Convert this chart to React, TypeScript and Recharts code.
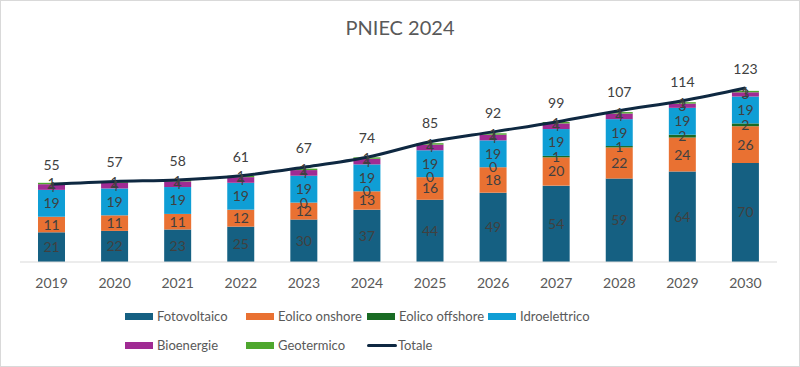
import { ComposedChart, Bar, Line, XAxis, YAxis, LabelList } from "recharts";

const years = ["2019", "2020", "2021", "2022", "2023", "2024", "2025", "2026", "2027", "2028", "2029", "2030"];
const fotovoltaico = [21, 22, 23, 25, 30, 37, 44, 49, 54, 59, 64, 70];
const eolicoOnshore = [11, 11, 11, 12, 12, 13, 16, 18, 20, 22, 24, 26];
const eolicoOffshore = [0, 0, 0, 0, 0, 0, 0, 0, 1, 1, 2, 2];
const idroelettrico = [19, 19, 19, 19, 19, 19, 19, 19, 19, 19, 19, 19];
const bioenergie = [4, 4, 4, 4, 4, 4, 4, 4, 4, 4, 3, 3];
const geotermico = [1, 1, 1, 1, 1, 1, 1, 1, 1, 1, 1, 1];
const totale = [55, 57, 58, 61, 67, 74, 85, 92, 99, 107, 114, 123];

const data = years.map((y, i) => ({
  year: y,
  fotovoltaico: fotovoltaico[i],
  eolicoOnshore: eolicoOnshore[i],
  eolicoOffshore: eolicoOffshore[i],
  idroelettrico: idroelettrico[i],
  bioenergie: bioenergie[i],
  geotermico: geotermico[i],
  totale: totale[i],
}));

const FONT = "Lato, sans-serif";
const TEXT = "#404040";

const series = [
  { key: "fotovoltaico", name: "Fotovoltaico", color: "#156082" },
  { key: "eolicoOnshore", name: "Eolico onshore", color: "#E97132" },
  { key: "eolicoOffshore", name: "Eolico offshore", color: "#196B24" },
  { key: "idroelettrico", name: "Idroelettrico", color: "#0F9ED5" },
  { key: "bioenergie", name: "Bioenergie", color: "#A02B93" },
  { key: "geotermico", name: "Geotermico", color: "#4EA72E" },
];

// zero-height offshore bars get no label of their own, so the onshore label
// also writes the offshore "0" on its top edge (shown from 2023 on)
const onshoreLabel = (props: any) => {
  const { x, y, width, height, value, index } = props;
  const off = eolicoOffshore[index];
  return (
    <g>
      <text x={x + width / 2} y={y + height / 2} dy={5} textAnchor="middle" fill={TEXT} fontSize={14} fontFamily={FONT}>
        {value}
      </text>
      {off === 0 && index >= 4 ? (
        <text x={x + width / 2} y={y} dy={5} textAnchor="middle" fill={TEXT} fontSize={14} fontFamily={FONT}>
          {off}
        </text>
      ) : null}
    </g>
  );
};

const offshoreLabel = (props: any) => {
  const { x, y, width, height, value } = props;
  if (!value) return null;
  return (
    <text x={x + width / 2} y={y + height / 2} dy={5} textAnchor="middle" fill={TEXT} fontSize={14} fontFamily={FONT}>
      {value}
    </text>
  );
};

function LegendItem({ name, color, line }: { name: string; color: string; line?: boolean }) {
  return (
    <div style={{ width: 121, display: "flex", alignItems: "center", whiteSpace: "nowrap" }}>
      {line ? (
        <span style={{ width: 30, height: 3, background: color, borderRadius: 2, marginRight: 1 }} />
      ) : (
        <span style={{ width: 28, height: 7, background: color, marginRight: 4 }} />
      )}
      <span>{name}</span>
    </div>
  );
}

export default function App() {
  return (
    <div
      style={{
        position: "absolute",
        left: 0,
        top: 0,
        width: 800,
        height: 367,
        boxSizing: "border-box",
        border: "1px solid #d9d9d9",
        background: "#fff",
        fontFamily: FONT,
      }}
    >
      <div style={{ position: "absolute", top: 14, width: "100%", textAlign: "center", fontSize: 20, color: "#595959" }}>
        PNIEC 2024
      </div>
      <div style={{ position: "absolute", left: -1, top: -1 }}>
        <ComposedChart width={800} height={367} data={data} margin={{ top: 64, right: 23, left: 20, bottom: 75 }}>
          <XAxis
            dataKey="year"
            height={30}
            tickLine={false}
            axisLine={{ stroke: "#d9d9d9" }}
            tick={{ fill: "#595959", fontSize: 14, fontFamily: FONT }}
            tickMargin={10}
          />
          <YAxis hide domain={[0, 140]} />
          {series.map((s) => (
            <Bar key={s.key} dataKey={s.key} name={s.name} stackId="a" fill={s.color} barSize={27} isAnimationActive={false}>
              {s.key === "eolicoOffshore" ? (
                <LabelList dataKey={s.key} content={offshoreLabel} />
              ) : s.key === "eolicoOnshore" ? (
                <LabelList dataKey={s.key} content={onshoreLabel} />
              ) : (
                <LabelList dataKey={s.key} position="center" fill={TEXT} fontSize={14} fontFamily={FONT} />
              )}
            </Bar>
          ))}
          <Line
            dataKey="totale"
            name="Totale"
            type="monotone"
            stroke="#0E2841"
            strokeWidth={3}
            dot={false}
            activeDot={false}
            isAnimationActive={false}
          >
            <LabelList dataKey="totale" position="top" offset={14} fill={TEXT} fontSize={14} fontFamily={FONT} />
          </Line>
        </ComposedChart>
      </div>
      <div style={{ position: "absolute", left: 124, top: 305, fontSize: 13, color: "#595959", width: 500 }}>
        <div style={{ display: "flex", height: 20 }}>
          {series.slice(0, 4).map((s) => (
            <LegendItem key={s.key} name={s.name} color={s.color} />
          ))}
        </div>
        <div style={{ display: "flex", height: 20, marginTop: 9 }}>
          {series.slice(4).map((s) => (
            <LegendItem key={s.key} name={s.name} color={s.color} />
          ))}
          <LegendItem name="Totale" color="#0E2841" line />
        </div>
      </div>
    </div>
  );
}
